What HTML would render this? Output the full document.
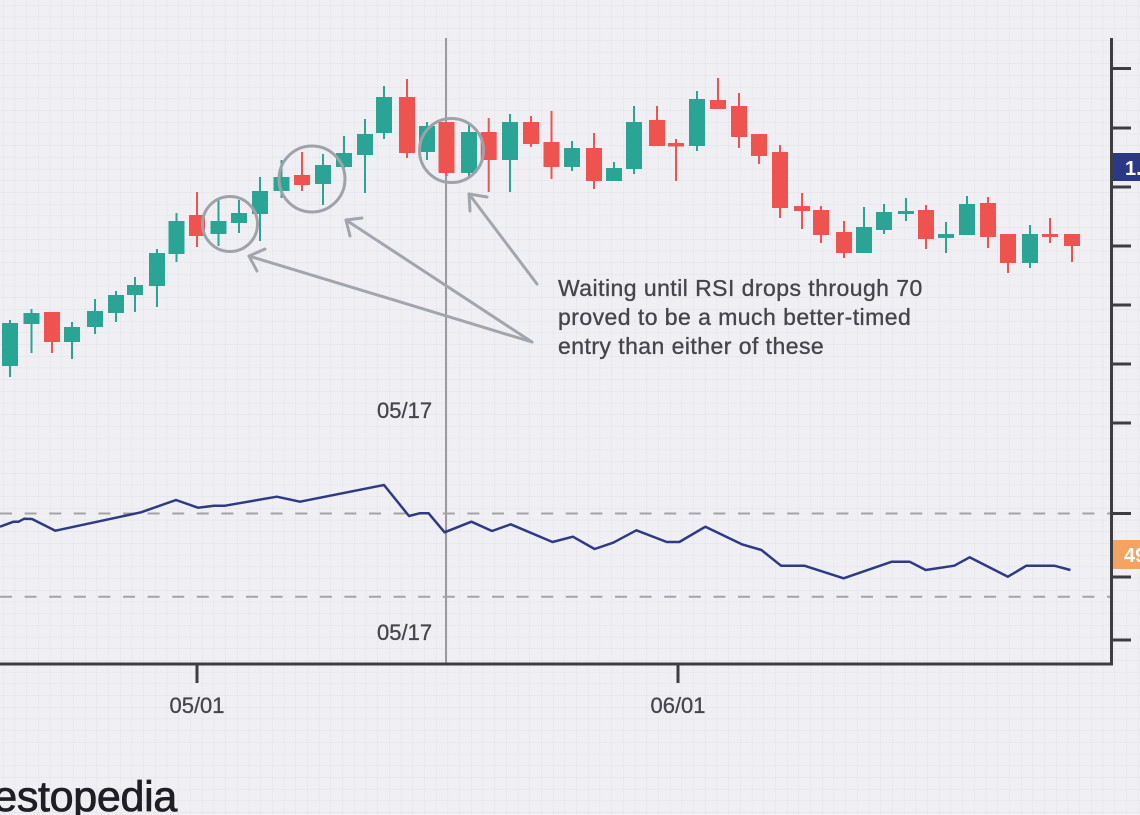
<!DOCTYPE html>
<html><head><meta charset="utf-8"><style>
html,body{margin:0;padding:0;background:#f0f0f4;}
svg{display:block;}
</style></head><body>
<svg width="1140" height="815" viewBox="0 0 1140 815" xmlns="http://www.w3.org/2000/svg">
<defs>
<pattern id="g" x="3" y="5" width="11.7" height="11.7" patternUnits="userSpaceOnUse">
<path d="M0 0 H11.7 M0 0 V11.7" stroke="#e1e1e8" stroke-width="1" fill="none"/>
</pattern>
</defs>
<rect width="1140" height="815" fill="#f0f0f4"/>
<rect width="1140" height="815" fill="url(#g)"/>

<!-- vertical marker line -->
<line x1="446" y1="38" x2="446" y2="664" stroke="#9a9aa0" stroke-width="2"/>

<!-- dashed RSI levels -->
<line x1="0" y1="513.5" x2="1111" y2="513.5" stroke="#a3a3a9" stroke-width="2" stroke-dasharray="12 12.6"/>
<line x1="0" y1="596.7" x2="1111" y2="596.7" stroke="#a3a3a9" stroke-width="2" stroke-dasharray="12 12.6"/>

<!-- candles -->
<g id="candles">
<g fill="#2aa595" stroke="#2aa595">
<line x1="10" y1="320" x2="10" y2="377" stroke-width="2"/><rect x="2" y="323" width="16" height="43" stroke="none"/>
<line x1="31.5" y1="309" x2="31.5" y2="353" stroke-width="2"/><rect x="23.5" y="313" width="16" height="11" stroke="none"/>
<line x1="72" y1="322" x2="72" y2="359" stroke-width="2"/><rect x="64" y="327" width="16" height="15" stroke="none"/>
<line x1="95" y1="299" x2="95" y2="334" stroke-width="2"/><rect x="87" y="311" width="16" height="16" stroke="none"/>
<line x1="116" y1="291" x2="116" y2="322" stroke-width="2"/><rect x="108" y="295" width="16" height="18" stroke="none"/>
<line x1="135" y1="277" x2="135" y2="312" stroke-width="2"/><rect x="127" y="285" width="16" height="10" stroke="none"/>
<line x1="157" y1="249" x2="157" y2="307" stroke-width="2"/><rect x="149" y="253" width="16" height="33" stroke="none"/>
<line x1="176.5" y1="213" x2="176.5" y2="262" stroke-width="2"/><rect x="168.5" y="221" width="16" height="33" stroke="none"/>
<line x1="218.5" y1="200" x2="218.5" y2="246" stroke-width="2"/><rect x="210.5" y="221" width="16" height="13" stroke="none"/>
<line x1="239" y1="200" x2="239" y2="233" stroke-width="2"/><rect x="231" y="213" width="16" height="10" stroke="none"/>
<line x1="260" y1="177" x2="260" y2="241" stroke-width="2"/><rect x="252" y="191" width="16" height="23" stroke="none"/>
<line x1="281.5" y1="160" x2="281.5" y2="198" stroke-width="2"/><rect x="273.5" y="177" width="16" height="14" stroke="none"/>
<line x1="323" y1="154" x2="323" y2="205" stroke-width="2"/><rect x="315" y="165" width="16" height="19" stroke="none"/>
<line x1="344" y1="136" x2="344" y2="168" stroke-width="2"/><rect x="336" y="153" width="16" height="14" stroke="none"/>
<line x1="365" y1="119" x2="365" y2="193" stroke-width="2"/><rect x="357" y="134" width="16" height="21" stroke="none"/>
<line x1="384" y1="86" x2="384" y2="139" stroke-width="2"/><rect x="376" y="97" width="16" height="36" stroke="none"/>
<line x1="427" y1="122" x2="427" y2="160" stroke-width="2"/><rect x="419" y="126" width="16" height="26" stroke="none"/>
<line x1="469" y1="125" x2="469" y2="177" stroke-width="2"/><rect x="461" y="132" width="16" height="41" stroke="none"/>
<line x1="510" y1="114" x2="510" y2="192" stroke-width="2"/><rect x="502" y="122" width="16" height="38" stroke="none"/>
<line x1="572" y1="141" x2="572" y2="171" stroke-width="2"/><rect x="564" y="148" width="16" height="19" stroke="none"/>
<line x1="614" y1="162" x2="614" y2="181" stroke-width="2"/><rect x="606" y="168" width="16" height="13" stroke="none"/>
<line x1="634" y1="106" x2="634" y2="174" stroke-width="2"/><rect x="626" y="122" width="16" height="47" stroke="none"/>
<line x1="697" y1="91" x2="697" y2="151" stroke-width="2"/><rect x="689" y="99" width="16" height="47" stroke="none"/>
<line x1="864" y1="207" x2="864" y2="253" stroke-width="2"/><rect x="856" y="227" width="16" height="26" stroke="none"/>
<line x1="884" y1="204" x2="884" y2="234" stroke-width="2"/><rect x="876" y="212" width="16" height="18" stroke="none"/>
<line x1="906" y1="198" x2="906" y2="221" stroke-width="2"/><rect x="898" y="211" width="16" height="3" stroke="none"/>
<line x1="946" y1="222" x2="946" y2="253" stroke-width="2"/><rect x="938" y="234" width="16" height="4" stroke="none"/>
<line x1="967" y1="196" x2="967" y2="235" stroke-width="2"/><rect x="959" y="204" width="16" height="31" stroke="none"/>
<line x1="1030" y1="225" x2="1030" y2="268" stroke-width="2"/><rect x="1022" y="234" width="16" height="29" stroke="none"/>
</g>
<g fill="#ef5350" stroke="#ef5350">
<line x1="52" y1="312" x2="52" y2="353" stroke-width="2"/><rect x="44" y="312" width="16" height="30" stroke="none"/>
<line x1="197" y1="192" x2="197" y2="247" stroke-width="2"/><rect x="189" y="215" width="16" height="21" stroke="none"/>
<line x1="302" y1="152" x2="302" y2="191" stroke-width="2"/><rect x="294" y="175" width="16" height="10" stroke="none"/>
<line x1="407" y1="79" x2="407" y2="158" stroke-width="2"/><rect x="399" y="97" width="16" height="56" stroke="none"/>
<line x1="446.5" y1="122" x2="446.5" y2="176" stroke-width="2"/><rect x="438.5" y="122" width="16" height="51" stroke="none"/>
<line x1="488.7" y1="118" x2="488.7" y2="192" stroke-width="2"/><rect x="480.7" y="132" width="16" height="28" stroke="none"/>
<line x1="531" y1="116" x2="531" y2="147" stroke-width="2"/><rect x="523" y="122" width="16" height="22" stroke="none"/>
<line x1="551.5" y1="111" x2="551.5" y2="179" stroke-width="2"/><rect x="543.5" y="142" width="16" height="25" stroke="none"/>
<line x1="594" y1="133" x2="594" y2="189" stroke-width="2"/><rect x="586" y="148" width="16" height="33" stroke="none"/>
<line x1="657" y1="106" x2="657" y2="146" stroke-width="2"/><rect x="649" y="120" width="16" height="26" stroke="none"/>
<line x1="676" y1="139" x2="676" y2="181" stroke-width="2"/><rect x="668" y="143" width="16" height="3.5" stroke="none"/>
<line x1="718" y1="78" x2="718" y2="109" stroke-width="2"/><rect x="710" y="100" width="16" height="9" stroke="none"/>
<line x1="739" y1="93" x2="739" y2="148" stroke-width="2"/><rect x="731" y="106" width="16" height="31" stroke="none"/>
<line x1="759" y1="134" x2="759" y2="164" stroke-width="2"/><rect x="751" y="134" width="16" height="22" stroke="none"/>
<line x1="780" y1="145" x2="780" y2="218" stroke-width="2"/><rect x="772" y="152" width="16" height="56" stroke="none"/>
<line x1="802" y1="193" x2="802" y2="229" stroke-width="2"/><rect x="794" y="206" width="16" height="5" stroke="none"/>
<line x1="821" y1="206" x2="821" y2="243" stroke-width="2"/><rect x="813" y="210" width="16" height="25" stroke="none"/>
<line x1="844" y1="221" x2="844" y2="258" stroke-width="2"/><rect x="836" y="232" width="16" height="21" stroke="none"/>
<line x1="926" y1="205" x2="926" y2="249" stroke-width="2"/><rect x="918" y="210" width="16" height="29" stroke="none"/>
<line x1="988" y1="197" x2="988" y2="248" stroke-width="2"/><rect x="980" y="203" width="16" height="34" stroke="none"/>
<line x1="1008" y1="234" x2="1008" y2="273" stroke-width="2"/><rect x="1000" y="234" width="16" height="29" stroke="none"/>
<line x1="1050" y1="218" x2="1050" y2="243" stroke-width="2"/><rect x="1042" y="234" width="16" height="3" stroke="none"/>
<line x1="1072" y1="234" x2="1072" y2="262" stroke-width="2"/><rect x="1064" y="234" width="16" height="12" stroke="none"/>
</g>
</g>

<!-- circles -->
<g fill="none" stroke="#a0a2aa" stroke-width="3">
<circle cx="230" cy="224" r="27.5"/>
<circle cx="312" cy="179" r="33"/>
<circle cx="451.5" cy="150.5" r="32"/>
</g>

<!-- arrows -->
<g fill="none" stroke="#a3a5ad" stroke-width="3" stroke-linecap="round" stroke-linejoin="round">
<line x1="532" y1="342" x2="249" y2="256"/>
<polyline points="265,249 249,256 257,271"/>
<line x1="532" y1="342" x2="346" y2="220"/>
<polyline points="362,218 346,220 350,236"/>
<line x1="537" y1="284" x2="469" y2="194"/>
<polyline points="487,197 469,194 470,211"/>
</g>

<!-- annotation -->
<g font-family="Liberation Sans, sans-serif" font-size="23" letter-spacing="0.45" fill="#45454b" stroke="#45454b" stroke-width="0.35">
<text x="558" y="296">Waiting until RSI drops through 70</text>
<text x="558" y="325">proved to be a much better-timed</text>
<text x="558" y="354">entry than either of these</text>
</g>

<!-- date labels -->
<g font-family="Liberation Sans, sans-serif" font-size="22" fill="#45454b" stroke="#45454b" stroke-width="0.3">
<text x="377" y="418">05/17</text>
<text x="377" y="640">05/17</text>
<text x="197" y="713" text-anchor="middle">05/01</text>
<text x="678" y="713" text-anchor="middle">06/01</text>
</g>

<!-- RSI line -->
<polyline fill="none" stroke="#2f3a86" stroke-width="2.5" stroke-linejoin="round" points="0,526.7 13.6,521.7 18.6,521.7 24.3,518.7 32,519 55.4,530.7 141,512.3 176,500 198,507.7 214,505.7 225,505.7 276.8,496.7 300,501.7 384,485 409,516 419.6,513.3 428.6,513.3 444.6,532.3 471.4,521.7 492,531 510.7,524.3 552.5,542 572.9,536.7 594.6,549 613.2,542.7 636.4,530.3 666.8,542 679.3,542 705.4,526.7 741.8,544.3 761.4,550 781,565.7 804.3,565.7 843.6,578.3 891.8,561.7 909.6,561.7 925.7,570 954.3,565.7 969.6,557.3 1007.9,576.7 1026.4,565.7 1054.3,565.7 1070.4,570"/>

<!-- axes -->
<g stroke="#3d3d42" stroke-width="3">
<line x1="1111.5" y1="38" x2="1111.5" y2="665"/>
<line x1="0" y1="664" x2="1113" y2="664"/>
<line x1="1111" y1="68.5" x2="1131" y2="68.5"/>
<line x1="1111" y1="128" x2="1131" y2="128"/>
<line x1="1111" y1="187" x2="1131" y2="187"/>
<line x1="1111" y1="246" x2="1131" y2="246"/>
<line x1="1111" y1="305" x2="1131" y2="305"/>
<line x1="1111" y1="364" x2="1131" y2="364"/>
<line x1="1111" y1="423" x2="1131" y2="423"/>
<line x1="1111" y1="513.5" x2="1131" y2="513.5"/>
<line x1="1111" y1="577" x2="1131" y2="577"/>
<line x1="1111" y1="640" x2="1131" y2="640"/>
<line x1="197" y1="664" x2="197" y2="683"/>
<line x1="678" y1="664" x2="678" y2="683"/>
</g>

<!-- value tags -->
<rect x="1113" y="153" width="27" height="28" fill="#2c3785"/>
<text x="1125" y="175" font-family="Liberation Sans, sans-serif" font-size="20" font-weight="bold" fill="#ffffff">1.</text>
<rect x="1113" y="540" width="27" height="29" fill="#f4a460"/>
<text x="1124" y="562" font-family="Liberation Sans, sans-serif" font-size="20" font-weight="bold" fill="#ffffff">49</text>

<!-- logo -->
<text x="177" y="811" text-anchor="end" font-family="Liberation Sans, sans-serif" font-size="43" fill="#1e1e24" stroke="#1e1e24" stroke-width="0.8" letter-spacing="-0.3">Investopedia</text>
</svg>
</body></html>
